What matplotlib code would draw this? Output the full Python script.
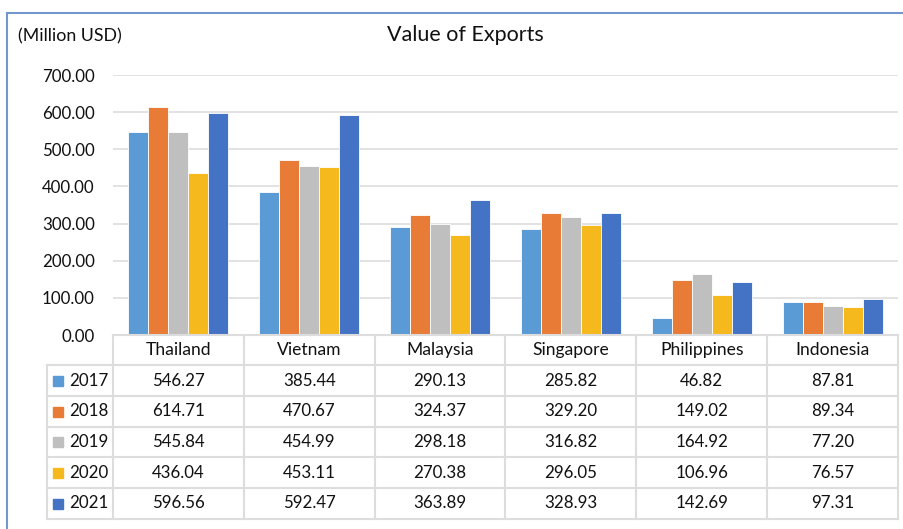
import matplotlib
matplotlib.use("Agg")
import matplotlib.pyplot as plt
import numpy as np
from matplotlib.lines import Line2D
from matplotlib.patches import Rectangle

plt.rcParams['font.family'] = ['Lato', 'DejaVu Sans']

countries = ["Thailand", "Vietnam", "Malaysia", "Singapore", "Philippines", "Indonesia"]
years = ["2017", "2018", "2019", "2020", "2021"]
v2017 = [546.27, 385.44, 290.13, 285.82, 46.82, 87.81]
v2018 = [614.71, 470.67, 324.37, 329.20, 149.02, 89.34]
v2019 = [545.84, 454.99, 298.18, 316.82, 164.92, 77.20]
v2020 = [436.04, 453.11, 270.38, 296.05, 106.96, 76.57]
v2021 = [596.56, 592.47, 363.89, 328.93, 142.69, 97.31]
series = [v2017, v2018, v2019, v2020, v2021]
colors = ["#5B9BD5", "#E87B35", "#BFBFBF", "#F5B91E", "#4472C4"]
yticks = [0, 100, 200, 300, 400, 500, 600, 700]

W, H = 904, 529
fig = plt.figure(figsize=(W / 100, H / 100), dpi=100)

def fx(x):
    return x / W

def fy(y):
    return 1 - y / H

ax_left, ax_right, ax_top, ax_bot = 113, 898, 75, 335
ax = fig.add_axes([fx(ax_left), fy(ax_bot), fx(ax_right - ax_left), (ax_bot - ax_top) / H])

n = len(countries)
x = np.arange(n)
bw = 0.153
for i, (vals, c) in enumerate(zip(series, colors)):
    ax.bar(x + (i - 2) * bw, vals, width=bw, color=c, edgecolor="white", linewidth=0.6, zorder=3)

ax.set_xlim(-0.5, n - 0.5)
ax.set_ylim(0, 700)
ax.set_yticks(yticks)
ax.set_yticklabels([f"{t:.2f}" for t in yticks], fontsize=12.2, color="#111111")
ax.tick_params(axis="y", length=0, pad=13)
ax.set_xticks([])
ax.grid(axis="y", color="#DDDDDD", linewidth=1.2, zorder=0)
for s in ax.spines.values():
    s.set_visible(False)

# Table
col_edges = [113 + i * (898 - 113) / n for i in range(n + 1)]
row_edges = [335, 365, 396, 427, 457, 488, 519]
leg_left = 47
lc = "#DDDDDD"
lw = 1.5

def hline(y, x0, x1):
    fig.add_artist(Line2D([fx(x0), fx(x1)], [fy(y), fy(y)], color=lc, linewidth=lw))

def vline(x0, y0, y1):
    fig.add_artist(Line2D([fx(x0), fx(x0)], [fy(y0), fy(y1)], color=lc, linewidth=lw))

hline(row_edges[0], col_edges[0], col_edges[-1])
for y in row_edges[1:]:
    hline(y, leg_left, col_edges[-1])
for xe in col_edges:
    vline(xe, row_edges[0], row_edges[-1])
vline(leg_left, row_edges[1], row_edges[-1])

fs = 12.2
for j, name in enumerate(countries):
    cx = (col_edges[j] + col_edges[j + 1]) / 2
    cy = (row_edges[0] + row_edges[1]) / 2
    fig.text(fx(cx), fy(cy), name, ha="center", va="center", fontsize=fs + 0.4, color="#111111")

for i, (yr, vals, c) in enumerate(zip(years, series, colors)):
    cy = (row_edges[i + 1] + row_edges[i + 2]) / 2
    fig.add_artist(Rectangle((fx(53), fy(cy + 5)), fx(10), 10 / H, color=c, transform=fig.transFigure))
    fig.text(fx(69), fy(cy), yr, ha="left", va="center", fontsize=fs, color="#111111")
    for j, v in enumerate(vals):
        cx = (col_edges[j] + col_edges[j + 1]) / 2
        fig.text(fx(cx), fy(cy), f"{v:.2f}", ha="center", va="center", fontsize=fs, color="#111111")

# Titles
fig.text(fx(465), fy(35), "Value of Exports", ha="center", va="center", fontsize=15.5, color="#111111")
fig.text(fx(18), fy(36), "(Million USD)", ha="left", va="center", fontsize=12.8, color="#111111")

# Border
bc = "#7397CC"
fig.add_artist(Line2D([fx(7), 1.0], [fy(13), fy(13)], color=bc, linewidth=1.5))
fig.add_artist(Line2D([fx(7), fx(7)], [fy(13), 0.0], color=bc, linewidth=1.5))

fig.savefig("out.png", dpi=100, facecolor="white")
